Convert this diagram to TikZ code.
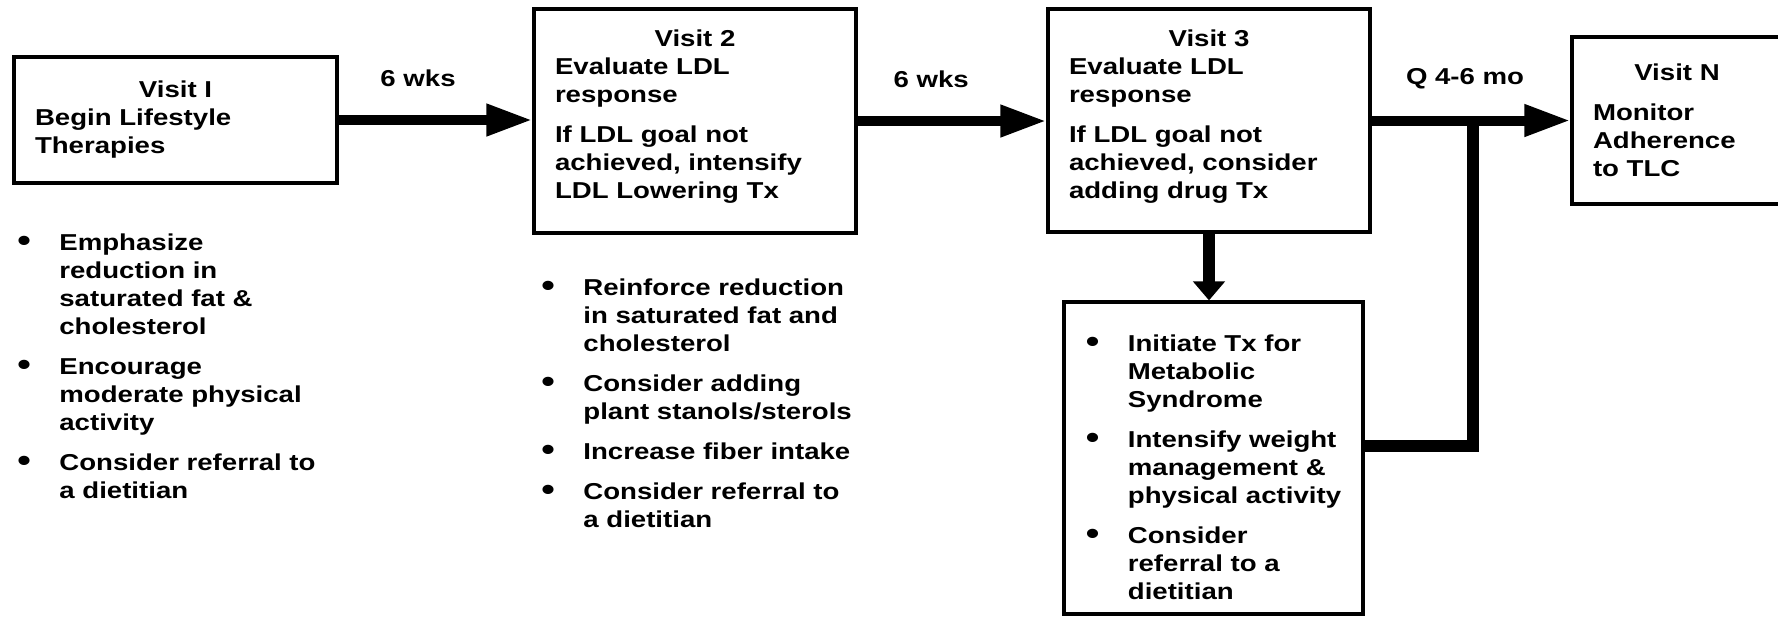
\documentclass[tikz,border=0pt]{standalone}
\usepackage{fontspec}
\setmainfont{Liberation Sans}[FakeStretch=1.2]
\usepackage{graphicx}
\usetikzlibrary{arrows.meta,positioning}

\newcommand{\tipdot}{\makebox[21pt][l]{\raisebox{-0.5pt}{\scalebox{1.4}{\textbullet}}}}
\newcommand{\tipind}{\hspace*{21pt}}

\begin{document}
\begin{tikzpicture}[x=0.5pt, y=-0.5pt,
    txt/.style={font=\fontsize{11.5}{14}\selectfont\bfseries},
    visit/.style={txt, draw, line width=1.6pt, align=left, inner xsep=10.5pt, inner ysep=0pt},
    tips/.style={txt, align=left, inner sep=0pt, anchor=north west},
    flow/.style={line width=5pt, -{Triangle[length=23pt, width=15pt]}},
    drop/.style={line width=6pt, -{Triangle[length=9.5pt, width=15.5pt]}},
    back/.style={line width=6pt, line join=miter}]
    \useasboundingbox (0,0) rectangle (1778,617);

    % Visit boxes
    \node[visit, text width=140.5pt, minimum height=63pt] (v1) at (175.5,120)
        {\hfill Visit I\hfill\null\\ Begin Lifestyle\\ Therapies};
    \node[visit, text width=140pt, minimum height=112pt] (v2) at (695,121)
        {\hfill Visit 2\hfill\null\\ Evaluate LDL\\ response\\[6pt] If LDL goal not\\ achieved, intensify\\ LDL Lowering Tx\rule[-6.5pt]{0pt}{0pt}};
    \node[visit, text width=140pt, minimum height=111.5pt] (v3) at (1209,120.5)
        {\hfill Visit 3\hfill\null\\ Evaluate LDL\\ response\\[6pt] If LDL goal not\\ achieved, consider\\ adding drug Tx\rule[-6.5pt]{0pt}{0pt}};
    \node[visit, text width=84pt, minimum height=83.5pt] (vN) at (1677,120.5)
        {\hfill Visit N\hfill\null\\[6pt] Monitor\\ Adherence\\ to TLC};
    \node[visit, minimum width=149.5pt, minimum height=156pt] (mets) at (1213.5,458)
        {\rule{0pt}{17.4pt}\tipdot Initiate Tx for\\ \tipind Metabolic\\ \tipind Syndrome\\[6pt]
         \tipdot Intensify weight\\ \tipind management \&\\ \tipind physical activity\\[6pt]
         \tipdot Consider\\ \tipind referral to a\\ \tipind dietitian};

    % Lists under the first two visits
    \node[tips] (tips1) at (17,233)
        {\tipdot Emphasize\\ \tipind reduction in\\ \tipind saturated fat \&\\ \tipind cholesterol\\[6pt]
         \tipdot Encourage\\ \tipind moderate physical\\ \tipind activity\\[6pt]
         \tipdot Consider referral to\\ \tipind a dietitian};
    \node[tips] (tips2) at (541,278)
        {\tipdot Reinforce reduction\\ \tipind in saturated fat and\\ \tipind cholesterol\\[6pt]
         \tipdot Consider adding\\ \tipind plant stanols/sterols\\[6pt]
         \tipdot Increase fiber intake\\[6pt]
         \tipdot Consider referral to\\ \tipind a dietitian};

    % Connectors
    \draw[flow] (v1.east) -- node[txt, pos=.41, yshift=21pt] (wk1) {6 wks} (v1.east -| v2.west);
    \draw[flow] (v2.east) -- node[txt, pos=.39, yshift=21pt] (wk2) {6 wks} (v2.east -| v3.west);
    \draw[flow] (v3.east) -- node[txt, pos=.47, yshift=21pt] (mo) {Q 4-6 mo} (v3.east -| vN.west);
    \draw[drop] (v3.south) -- (v3.south |- mets.north);
    \coordinate (jn) at (1473,120.5);
    \draw[back] ([yshift=6pt]mets.east) -| (jn); % back to the Visit N line
\end{tikzpicture}
\end{document}
